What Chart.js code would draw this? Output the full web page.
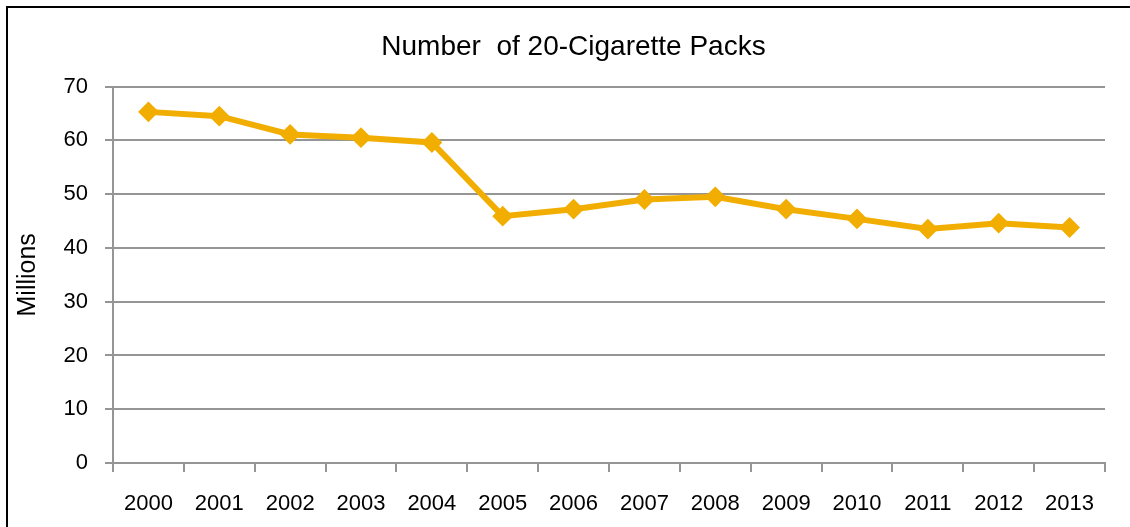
<!DOCTYPE html>
<html>
<head>
<meta charset="utf-8">
<script src="https://cdn.jsdelivr.net/npm/chart.js@4.4.0/dist/chart.umd.min.js"></script>
<style>
  html, body { margin: 0; padding: 0; background: #fff; overflow: hidden; }
  #wrap { position: relative; width: 1130px; height: 527px; }
  #frame { position: absolute; left: 6px; top: 6px; width: 1200px; height: 600px;
           border-top: 2px solid #000; border-left: 2px solid #000; pointer-events: none; }
</style>
</head>
<body>
<div id="wrap">
  <canvas id="c" width="1130" height="527"></canvas>
  <div id="frame"></div>
</div>
<script>
const years = ['2000','2001','2002','2003','2004','2005','2006','2007','2008','2009','2010','2011','2012','2013'];
const packs = [65.3, 64.5, 61.1, 60.5, 59.6, 45.9, 47.2, 49.0, 49.5, 47.2, 45.4, 43.5, 44.6, 43.8];
const yMin = 0, yMax = 70, yStep = 10;
const chartTitle = 'Number  of 20-Cigarette Packs';
const yTitle = 'Millions';

const FONT = '"Liberation Sans", Arial, sans-serif';
const GRID = '#959595';
const LINE = '#F2AE00';

new Chart(document.getElementById('c'), {
  type: 'line',
  data: {
    labels: years,
    datasets: [{
      data: packs,
      borderColor: LINE,
      backgroundColor: LINE,
      borderWidth: 6,
      pointStyle: 'rectRot',
      pointRadius: 9,
      pointBorderWidth: 2,
      pointBorderColor: LINE,
      pointBackgroundColor: LINE,
      tension: 0,
      fill: false
    }]
  },
  options: {
    responsive: false,
    animation: false,
    devicePixelRatio: 1,
    layout: { padding: { left: 42, right: 25, top: 0, bottom: 0 } },
    plugins: {
      legend: { display: false },
      tooltip: { enabled: false },
      title: {
        display: true,
        text: chartTitle,
        color: '#000',
        font: { family: FONT, size: 28, weight: 'normal' },
        padding: { top: 30, bottom: 23 }
      }
    },
    scales: {
      x: {
        offset: true,
        afterFit: s => { s.height = 64; },
        grid: { offset: true, drawOnChartArea: false, drawTicks: true, tickLength: 9, color: GRID, lineWidth: 2 },
        border: { display: true, color: GRID, width: 2 },
        ticks: { color: '#000', font: { family: FONT, size: 22 }, padding: 19, maxRotation: 0, autoSkip: false }
      },
      y: {
        min: yMin, max: yMax,
        afterFit: s => { s.width = 71; },
        grid: { color: GRID, lineWidth: 2, drawTicks: true, tickLength: 8 },
        border: { display: true, color: GRID, width: 2 },
        ticks: { stepSize: yStep, color: '#000', font: { family: FONT, size: 22 }, padding: 17 },
        title: {
          display: true, text: yTitle, color: '#000',
          font: { family: FONT, size: 25 }, padding: { top: -29, bottom: 0 }
        }
      }
    }
  }
});
</script>
</body>
</html>
